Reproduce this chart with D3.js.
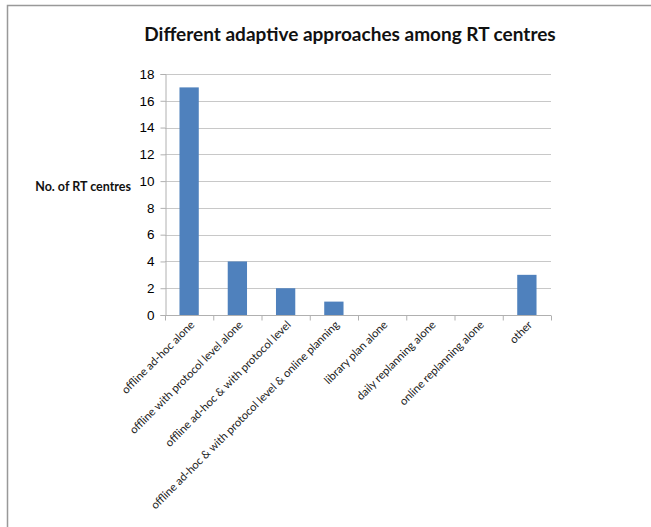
<!DOCTYPE html>
<html><head><meta charset="utf-8">
<script src="https://cdn.jsdelivr.net/npm/d3@7"></script>
<style>body{margin:0;background:#fff;}svg{display:block;font-family:Lato,"Open Sans",sans-serif;}</style>
</head><body><svg id="c" width="651" height="527"></svg>
<script>
const categories = ["offline ad-hoc alone","offline with protocol level alone","offline ad-hoc & with protocol level","offline ad-hoc & with protocol level & online planning","library plan alone","daily replanning alone","online replanning alone","other"];
const values = [17,4,2,1,0,0,0,3];
const yTicks = [0,2,4,6,8,10,12,14,16,18];
const title = "Different adaptive approaches among RT centres";
const yLabel = "No. of RT centres";

const svg = d3.select("#c");
svg.append("rect").attr("x",7.5).attr("y",5.5).attr("width",650).attr("height",530).attr("fill","none").attr("stroke","#999").attr("stroke-width",1.5);
const m = {l:165, r:551, t:74, b:315};
const x = d3.scaleBand().domain(categories).range([m.l,m.r]).paddingInner(0.6).paddingOuter(0.3);
const xb = d3.scaleBand().domain(categories).range([m.l,m.r]);
const y = d3.scaleLinear().domain([0,18]).range([m.b,m.t]);

svg.append("g").selectAll("line").data(yTicks.filter(d=>d>0)).join("line")
  .attr("x1",m.l).attr("x2",m.r).attr("y1",d=>Math.round(y(d))+0.5).attr("y2",d=>Math.round(y(d))+0.5)
  .attr("stroke","#c8c8c8").attr("stroke-width",1);

const ya = svg.append("g").attr("transform",`translate(${m.l+0.5},0)`)
  .call(d3.axisLeft(y).tickValues(yTicks).tickSize(5).tickPadding(6));
ya.select(".domain").attr("stroke","#b0b0b0");
ya.selectAll(".tick line").attr("stroke","#b0b0b0");
ya.selectAll("text").attr("font-size",13.5).attr("fill","#000");

svg.append("g").selectAll("rect").data(values).join("rect")
  .attr("x",(d,i)=>x(categories[i])).attr("width",x.bandwidth())
  .attr("y",d=>y(d)).attr("height",d=>y(0)-y(d)).attr("fill","#4f81bd");

const xa = svg.append("g").attr("transform",`translate(0,${m.b+0.5})`);
xa.append("line").attr("x1",m.l).attr("x2",m.r).attr("stroke","#b0b0b0");
xa.selectAll("line.t").data(d3.range(categories.length+1)).join("line").attr("class","t")
  .attr("x1",i=>m.l+i*xb.step()+0.5).attr("x2",i=>m.l+i*xb.step()+0.5).attr("y1",0).attr("y2",5).attr("stroke","#b0b0b0");
xa.selectAll("text").data(categories).join("text")
  .attr("transform",d=>`translate(${xb(d)+xb.bandwidth()/2+6},${10}) rotate(-45)`)
  .attr("text-anchor","end").attr("font-size",11.2).attr("fill","#222").text(d=>d);

svg.append("text").attr("x",350).attr("y",41).attr("text-anchor","middle").attr("font-size",19).attr("font-weight","bold").attr("fill","#111").text(title);
svg.append("text").attr("x",131).attr("y",191).attr("text-anchor","end").attr("font-size",12.5).attr("font-weight","bold").attr("fill","#111").text(yLabel);
</script></body></html>
